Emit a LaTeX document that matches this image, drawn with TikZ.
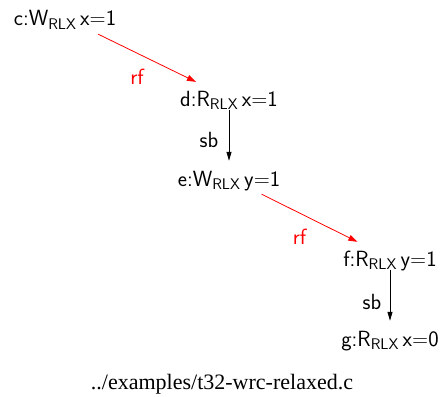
\documentclass[tikz,border=0pt]{standalone}
\usepackage{fontspec}
\newfontfamily\capfont{Liberation Serif}
\usetikzlibrary{arrows.meta}

\begin{document}
\begin{tikzpicture}[x=1pt, y=-1pt,
  ev/.style={font=\fontsize{22}{24}\selectfont\sffamily, inner sep=0pt,
    text height=19pt, text depth=3pt, minimum height=24pt},
  lbl/.style={font=\fontsize{22}{24}\selectfont\sffamily, inner sep=0pt},
  rf/.style={draw=red, line width=0.8pt, -{Triangle[length=9pt,width=6pt]},
    shorten <=9pt, shorten >=9pt},
  sb/.style={draw=black, line width=0.8pt, -{Triangle[length=9pt,width=5pt]},
    shorten >=5pt}]
\useasboundingbox (0,0) rectangle (443,396);

% events
\node[ev] (c) at (65,18) {c:W\textsubscript{RLX}\,x=1};
\node[ev] (d) at (229,98) {d:R\textsubscript{RLX}\,x=1};
\node[ev] (e) at (229,178) {e:W\textsubscript{RLX}\,y=1};
\node[ev] (f) at (390,258) {f:R\textsubscript{RLX}\,y=1};
\node[ev] (g) at (390,338) {g:R\textsubscript{RLX}\,x=0};

% edges
\draw[rf] (c) -- node[lbl, red, xshift=-10pt, yshift=-19pt] {rf} (d);
\draw[sb] (d) -- node[lbl, xshift=-20pt, yshift=-2pt] {sb} (e);
\draw[rf] (e) -- node[lbl, red, xshift=-10pt, yshift=-19pt] {rf} (f);
\draw[sb] (f) -- node[lbl, xshift=-18pt, yshift=-4pt] {sb} (g);

\node[font=\capfont\fontsize{22}{24}\selectfont, anchor=base] (cap) at (222,389)
  {../examples/t32-wrc-relaxed.c};
\end{tikzpicture}
\end{document}
